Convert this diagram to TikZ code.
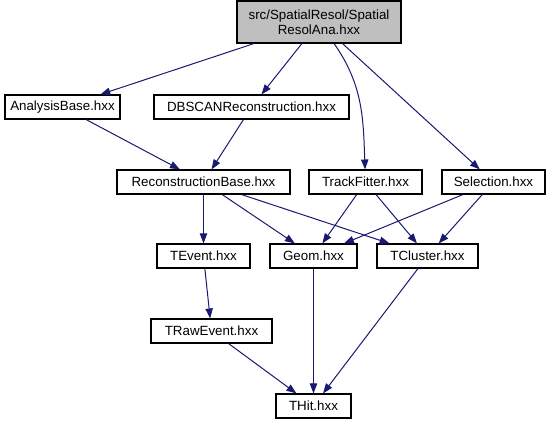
\documentclass[tikz,border=0pt]{standalone}
\usepackage{fontspec}
\setmainfont{Liberation Sans}
\usetikzlibrary{arrows.meta}
\definecolor{edgeblue}{RGB}{25,25,112}
\definecolor{rootgray}{RGB}{191,191,191}
\tikzset{
    hxx/.style={draw, rectangle, line width=0.8pt, inner sep=0pt,
        minimum height=18pt, minimum width=#1*0.75pt,
        font=\fontsize{10}{11.5}\selectfont},
    dep/.style={->, draw=edgeblue, line width=0.75pt,
        >={Triangle[length=7.5pt, width=5.5pt, fill=edgeblue]}}
}
\begin{document}
\begin{tikzpicture}[x=0.75pt, y=0.75pt]
    \useasboundingbox (0,0) rectangle (551,-425);
    % Archivo raiz
    \node[hxx=164, minimum height=31.5pt, fill=rootgray, align=center] (root) at (319,-22)
        {src/SpatialResol/Spatial\\ResolAna.hxx};

    % Primer nivel
    \node[hxx=115] (anabase) at (62.5,-107) {AnalysisBase.hxx};
    \node[hxx=195] (dbscan) at (251.5,-107) {DBSCANReconstruction.hxx};

    % Segundo nivel
    \node[hxx=173] (recobase) at (203.5,-182) {ReconstructionBase.hxx};
    \node[hxx=113] (fitter) at (365.5,-182) {TrackFitter.hxx};
    \node[hxx=103] (selection) at (493.5,-182) {Selection.hxx};

    % Tercer nivel
    \node[hxx=93] (tevent) at (203.5,-256) {TEvent.hxx};
    \node[hxx=87] (geom) at (313.5,-256) {Geom.hxx};
    \node[hxx=101] (tcluster) at (427.5,-256) {TCluster.hxx};

    % Niveles inferiores
    \node[hxx=121] (rawevent) at (211.5,-331) {TRawEvent.hxx};
    \node[hxx=75] (thit) at (313.5,-406) {THit.hxx};

    % Dependencias
    \draw[dep] (root) -- (anabase);
    \draw[dep] (root) -- (dbscan);
    \draw[dep] (root) to[out=-55, in=92] (fitter);
    \draw[dep] (root) -- (selection);
    \draw[dep] (anabase) -- (recobase);
    \draw[dep] (dbscan) -- (recobase);
    \draw[dep] (recobase) -- (tevent);
    \draw[dep] (recobase) -- (geom);
    \draw[dep] (recobase) -- (tcluster);
    \draw[dep] (fitter) -- (geom);
    \draw[dep] (fitter) -- (tcluster);
    \draw[dep] (selection) -- (geom);
    \draw[dep] (selection) -- (tcluster);
    \draw[dep] (tevent) -- (rawevent);
    \draw[dep] (rawevent) -- (thit);
    \draw[dep] (geom) -- (thit);
    \draw[dep] (tcluster) -- (thit);
\end{tikzpicture}
\end{document}
